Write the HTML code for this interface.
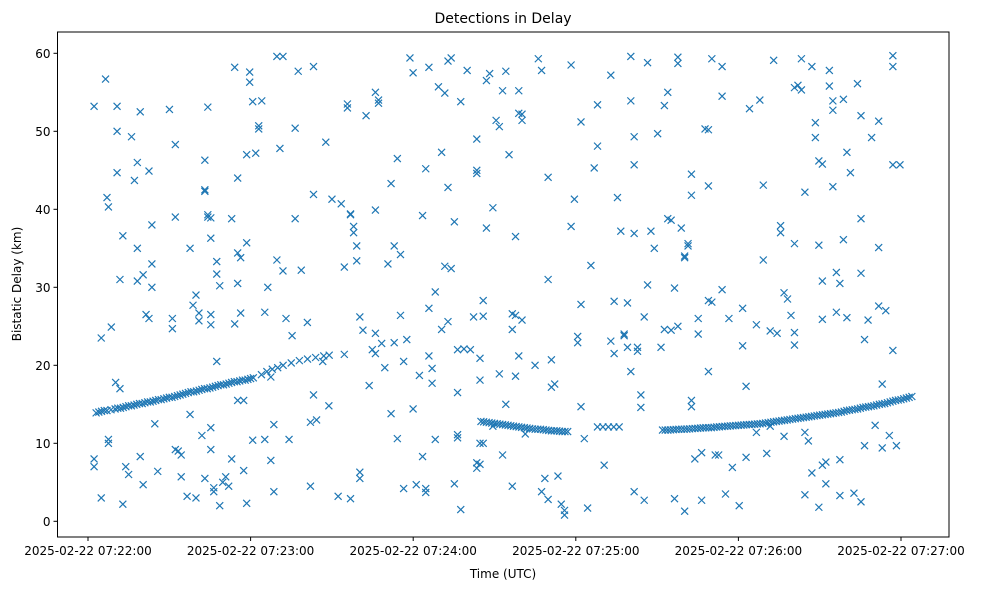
<!DOCTYPE html>
<html><head><meta charset="utf-8"><style>
body{margin:0;background:#fff;font-family:"Liberation Sans","DejaVu Sans",sans-serif}
svg text{font-family:"DejaVu Sans","Liberation Sans",sans-serif;fill:#000}
</style></head><body>
<svg id="chart" width="983" height="590" xmlns="http://www.w3.org/2000/svg">
<rect width="983" height="590" fill="#fff"/>
<text x="503" y="23" font-size="14" text-anchor="middle">Detections in Delay</text>
<text x="503" y="578" font-size="12" text-anchor="middle">Time (UTC)</text>
<text transform="translate(21,284) rotate(-90)" font-size="12" text-anchor="middle">Bistatic Delay (km)</text>
<g id="marks"></g>
<g id="axes"></g>
</svg>
<script>
const xTickSeconds=[0,60,120,180,240,300];
const xTickLabels=["2025-02-22 07:22:00","2025-02-22 07:23:00","2025-02-22 07:24:00","2025-02-22 07:25:00","2025-02-22 07:26:00","2025-02-22 07:27:00"];
const yTicks=[0,10,20,30,40,50,60];
const trackPoints=[[3,13.9],[4,14.0],[5,14.1],[6,14.2],[7,14.2],[8.5,14.3],[10,14.4],[11,14.5],[12,14.5],[13,14.6],[14,14.7],[15,14.8],[16,14.8],[17,14.9],[18,15.0],[19,15.1],[20,15.1],[21,15.2],[22,15.3],[23,15.3],[24,15.4],[25,15.5],[26,15.6],[27,15.6],[28,15.7],[29,15.8],[30,15.9],[31,15.9],[32,16.0],[33,16.1],[34,16.2],[35,16.3],[36,16.4],[37,16.5],[38,16.6],[39,16.6],[40,16.7],[41,16.8],[42,16.9],[43,17.0],[44,17.0],[45,17.1],[46,17.2],[47,17.3],[48,17.4],[49,17.5],[50,17.5],[51,17.6],[52,17.7],[53,17.8],[54,17.9],[55,17.9],[56,18.0],[57,18.1],[58,18.1],[59,18.2],[60,18.3],[61,18.4],[64,18.8],[66,19.2],[68,19.5],[70,19.7],[72,20.0],[75,20.3],[78,20.6],[81,20.8],[84,21.0],[87,21.2],[89,21.3],
[145,12.8],[147,12.7],[149,12.6],[151,12.5],[153,12.4],[155,12.3],[157,12.2],[159,12.1],[161,12.0],[163,11.9],[165,11.8],[167,11.8],[169,11.7],[171,11.6],[173,11.6],[175,11.5],[177,11.5],
[146,12.75],[148,12.65],[150,12.55],[152,12.45],[154,12.35],[156,12.25],[158,12.15],[160,12.05],[162,11.95],[164,11.85],[166,11.8],[168,11.75],[170,11.65],[172,11.6],[174,11.55],[176,11.5],
[188,12.1],[190,12.1],[192,12.1],[194,12.1],[196,12.1],
[212,11.7],[214,11.7],[216,11.75],[218,11.8],[220,11.8],[222,11.85],[224,11.9],[226,11.95],[228,12.0],[230,12.0],[232,12.1],[234,12.15],[236,12.2],[238,12.25],[240,12.3],[242,12.35],[244,12.4],[246,12.45],[248,12.5],[250,12.6],[252,12.7],[254,12.8],[256,12.9],[258,13.0],[260,13.1],[262,13.2],[264,13.3],[266,13.4],[268,13.5],[270,13.6],[272,13.7],[274,13.8],[276,13.9],[278,14.0],[280,14.2],[282,14.3],[284,14.4],[286,14.6],[288,14.7],[290,14.8],[292,15.0],[294,15.1],[296,15.3],[298,15.5],[300,15.6],[302,15.8],[304,16.0],
[213,11.7],[215,11.72],[217,11.78],[219,11.8],[221,11.82],[223,11.88],[225,11.92],[227,11.98],[229,12.0],[231,12.05],[233,12.12],[235,12.18],[237,12.22],[239,12.28],[241,12.32],[243,12.38],[245,12.42],[247,12.48],[249,12.55],[251,12.65],[253,12.75],[255,12.85],[257,12.95],[259,13.05],[261,13.15],[263,13.25],[265,13.35],[267,13.45],[269,13.55],[271,13.65],[273,13.75],[275,13.85],[277,13.95],[279,14.1],[281,14.25],[283,14.35],[285,14.5],[287,14.65],[289,14.75],[291,14.9],[293,15.05],[295,15.2],[297,15.4],[299,15.55],[301,15.7],[303,15.9]];
// noise detections: [time index, delay km]; time index mapped to seconds via noiseTime()
const noisePoints=[[-1,53.2],[-1,8],[-1,7],[1.5,3],[1.5,23.5],[3,56.7],[3.5,41.5],[4,40.3],[4,10.5],[4,10],[5,24.9],[7,53.2],[7,50],[7,44.7],[6.5,17.8],[8,17],[8,31],[9,2.2],[9,36.6],[10,7],[11,6],[12,49.3],[13,43.7],[14,46],[14,35],[14,30.8],[15,52.5],[15,8.3],[16,4.7],[16,31.6],[17,26.5],[18,44.9],[18,26],[19,38],[19,30],[19,33],[20,12.5],[21,6.4],[25,52.8],[26,26],[26,24.7],[27,39],[27,48.3],[27,9.2],[28,9],[29,5.7],[29,8.5],[31,3.2],[32,35],[32,13.7],[33,27.7],[34,29],[34,3],[35,25.7],[35,26.7],[36,11],[37,46.3],[37,42.3],[37,42.5],[38,53.1],[38,39.3],[38,39],[39,38.9],[39,36.3],[39,26.5],[39,25.2],[39,12],[39,9.2],[37,5.5],[40,3.8],[40,4.3],[41,33.3],[41,31.7],[41,20.5],[42,30.2],[42,2],[43,5],[44,5.7],[45,4.5],[46,38.8],[46,8],[47,58.2],[47,25.3],[48,44],[48,34.4],[48,15.5],[48,30.5],[49,33.8],[49,26.7],[50,15.5],[50,6.5],[51,47],[51,2.3],[51,35.7],[52,56.3],[52,57.6],[53,53.8],[53,10.4],[54,47.2],[55,50.3],[55,50.7],[56,53.9],[57,10.5],[57,26.8],[58,30],[59,18.5],[59,7.8],[60,3.8],[60,12.4],[61,33.5],[61,59.6],[63,59.6],[62,47.8],[63,32.1],[64,26],[65,10.5],[66,23.8],[67,38.8],[67,50.4],[68,57.7],[69,32.2],[71,25.5],[72,12.7],[72,4.5],[73,58.3],[73,41.9],[73,16.2],[74,13],[76,20.5],[77,48.6],[78,14.8],[79,41.3],[81,3.2],[82,40.7],[83,21.4],[83,32.6],[84,53.5],[84,53],[85,2.9],[85,39.4],[85,39.3],[86,37.8],[86,37],[87,35.3],[87,33.4],[88,26.2],[88,6.3],[88,5.5],[89,24.5],[90,52],[91,17.4],[92,22],[93,21.5],[93,24.1],[93,39.9],[93,55],[94,54],[94,53.6],[95,22.8],[96,19.7],[97,33],[98,43.3],[98,13.8],[99,35.3],[99,22.9],[100,10.6],[100,46.5],[101,34.2],[101,26.4],[102,4.2],[102,20.5],[103,23.3],[104,59.4],[105,57.5],[105,14.4],[106,4.7],[107,18.7],[108,39.2],[108,8.3],[109,45.2],[109,4.2],[109,3.7],[110,58.2],[110,27.3],[110,21.2],[111,19.6],[111,17.7],[112,29.4],[112,10.5],[113,55.7],[114,47.3],[114,24.6],[115,54.9],[115,32.7],[116,42.8],[116,25.6],[116,59],[117,32.4],[117,59.4],[118,38.4],[118,4.8],[119,22],[119,11.1],[119,10.7],[119,16.5],[120,53.8],[120,1.5],[121,22.1],[122,57.8],[123,22],[124,26.2],[125,45],[125,49],[125,44.6],[125,7.5],[125,6.8],[126,7.3],[126,20.9],[126,10],[126,18.1],[127,26.3],[127,28.3],[127,10],[128,56.5],[128,37.6],[129,57.4],[130,40.2],[130,12.2],[131,51.4],[132,18.9],[132,50.6],[133,55.2],[133,8.5],[134,15],[134,57.7],[135,47],[136,26.6],[136,24.6],[136,4.5],[137,18.6],[137,36.5],[137,26.4],[138,52.3],[138,55.2],[139,51.4],[139,52.2],[138,21.2],[139,25.8],[140,11.2],[143,20],[144,59.3],[145,57.8],[145,3.8],[146,5.5],[147,44.1],[147,31],[147,2.8],[148,17.2],[148,20.7],[149,17.6],[150,5.8],[151,2.2],[152,1.4],[152,0.8],[154,58.5],[154,37.8],[155,41.3],[156,23.7],[156,22.9],[157,51.2],[157,27.8],[157,14.7],[158,10.6],[159,1.7],[160,32.8],[161,45.3],[162,48.1],[162,53.4],[164,7.2],[166,23.1],[166,57.2],[167,28.2],[167,21.5],[168,41.5],[169,37.2],[170,23.8],[170,24],[171,28],[171,22.3],[172,19.2],[172,59.6],[172,53.9],[173,49.3],[173,45.7],[173,36.9],[173,3.8],[174,21.8],[174,22.3],[175,16.2],[175,14.6],[176,2.7],[176,26.2],[177,58.8],[177,30.3],[178,37.2],[179,35],[180,49.7],[181,22.3],[182,53.3],[182,24.6],[183,55],[183,38.8],[184,24.5],[184,38.6],[185,2.9],[185,29.9],[186,58.7],[186,59.5],[186,25],[187,37.6],[188,34],[188,33.8],[188,1.3],[189,35.6],[189,35.3],[190,44.5],[190,41.8],[190,15.5],[190,14.7],[191,8],[192,26],[192,24],[193,2.7],[193,8.8],[194,50.3],[195,50.2],[195,43],[195,28.3],[195,19.2],[196,59.3],[196,28.1],[197,8.5],[198,8.5],[199,29.7],[199,58.3],[199,54.5],[200,3.5],[201,26],[202,6.9],[204,2],[205,22.5],[205,27.3],[206,8.2],[206,17.3],[207,52.9],[209,25.2],[209,11.4],[210,54],[211,33.5],[211,43.1],[212,8.7],[213,24.4],[213,12.2],[214,59.1],[215,24.1],[216,37.9],[216,37],[217,29.3],[217,10.9],[218,28.5],[219,26.4],[220,22.6],[220,24.2],[220,35.6],[220,55.6],[221,55.9],[222,59.3],[222,55.3],[223,42.2],[223,11.4],[223,3.4],[224,10.3],[225,6.2],[225,58.3],[226,51.1],[226,49.2],[227,1.8],[227,35.4],[227,46.2],[228,45.8],[228,30.8],[228,7.2],[228,25.9],[229,4.8],[229,7.6],[230,57.8],[230,55.8],[231,53.9],[231,52.7],[231,42.9],[232,26.8],[232,31.9],[233,30.5],[233,7.9],[233,3.3],[234,54.1],[234,36.1],[235,47.3],[235,26.1],[236,44.7],[237,3.6],[238,56.1],[239,52],[239,38.8],[239,31.8],[239,2.5],[240,23.3],[240,9.7],[241,25.8],[242,49.2],[243,12.3],[244,51.3],[244,35.1],[244,27.6],[245,17.6],[245,9.4],[246,27],[247,11],[248,59.7],[248,58.3],[248,21.9],[248,45.7],[249,9.7],[250,45.7]];

const L=57.5,R=949,T=32,B=537;
function xScale(s){return 88+s*(901-88)/300;}
function yScale(v){return 521.3-v*7.8;}
function noiseTime(u){return 3.3+1.0573*u+0.000512*u*u;}
const NS="http://www.w3.org/2000/svg";
const marks=document.getElementById('marks');
const axes=document.getElementById('axes');
function mk(tag,attrs,parent){const e=document.createElementNS(NS,tag);for(const k in attrs)e.setAttribute(k,attrs[k]);parent.appendChild(e);return e;}
function drawX(cx,cy,name){
  const p=mk('path',{d:`M${cx-3.5},${cy-3.5}L${cx+3.5},${cy+3.5}M${cx-3.5},${cy+3.5}L${cx+3.5},${cy-3.5}`,stroke:'#1f77b4','stroke-width':1.2,fill:'none'},marks);
  
  
}
noisePoints.forEach(p=>drawX(xScale(noiseTime(p[0])),yScale(p[1]),'detection-point'));
trackPoints.forEach(p=>drawX(xScale(p[0]),yScale(p[1]),'track-detection-point'));

const frame=mk('rect',{x:L,y:T,width:R-L,height:B-T,fill:'none',stroke:'#000','stroke-width':1},axes);


xTickSeconds.forEach((s,i)=>{
  const x=xScale(s);
  const t=mk('line',{x1:x,x2:x,y1:B,y2:B+4,stroke:'#000'},axes);
  
  
  const lb=mk('text',{x:x,y:B+18,'font-size':12,'text-anchor':'middle'},axes);
  lb.textContent=xTickLabels[i];
  
  
});
yTicks.forEach(v=>{
  const y=yScale(v);
  const t=mk('line',{x1:L-4,x2:L,y1:y,y2:y,stroke:'#000'},axes);
  
  
  const lb=mk('text',{x:L-7,y:y+4.5,'font-size':12,'text-anchor':'end'},axes);
  lb.textContent=String(v);
  
  
});
</script>
</body></html>
